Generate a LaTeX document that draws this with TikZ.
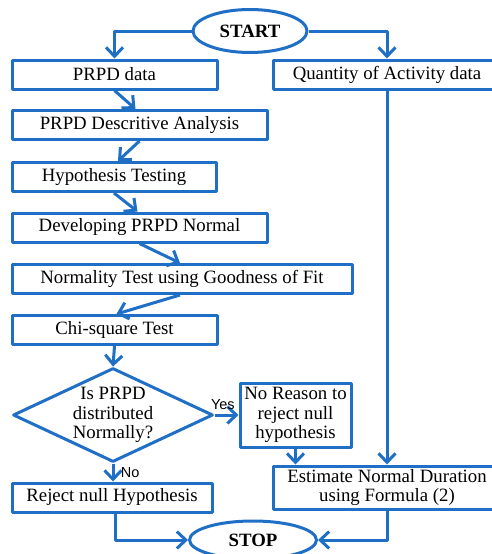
\documentclass[tikz,border=0pt]{standalone}
\usepackage{fontspec}
\setmainfont{Liberation Serif}
\newfontfamily\labelfont{Liberation Sans}
\usetikzlibrary{shapes.geometric,arrows.meta}
\definecolor{flowblue}{RGB}{31,111,199}
\begin{document}
\begin{tikzpicture}[x=1pt, y=-1pt, line join=round,
	font=\fontsize{18.8}{19.5}\selectfont,
	>={Straight Barb[length=9pt,width=17pt]},
	box/.style={draw=flowblue, line width=3pt, rectangle, inner sep=0pt, minimum height=29pt},
	oval/.style={draw=flowblue, line width=3pt, ellipse, inner sep=0pt, font=\fontsize{18.8}{19.5}\selectfont\bfseries},
	link/.style={->, draw=flowblue, line width=3pt},
	answer/.style={font=\labelfont\fontsize{14.5}{14.5}\selectfont}]
	\useasboundingbox (0,0) rectangle (491,554);
	
	% Đầu và cuối
	\node[oval, minimum width=114pt, minimum height=43pt] (start) at (250,31) {START};
	\node[oval, minimum width=127pt, minimum height=38pt] (stop) at (253,540) {STOP};
	
	% Nhánh trái
	\node[box, minimum width=205pt] (data) at (114.5,74.5) {PRPD data};
	\node[box, minimum width=255pt] (desc) at (139.5,125) {PRPD Descritive Analysis};
	\node[box, minimum width=204pt] (hyp) at (114,177) {Hypothesis Testing};
	\node[box, minimum width=255pt] (dev) at (139.5,227.5) {Developing PRPD Normal};
	\node[box, minimum width=340pt] (norm) at (182,279) {Normality Test using Goodness of Fit};
	\node[box, minimum width=205pt] (chi) at (114.5,330) {Chi-square Test};
	\node[draw=flowblue, line width=3pt, diamond, aspect=2.1, inner sep=0pt,
		minimum width=200pt, minimum height=94pt, align=center] (dist) at (113,415)
		{Is PRPD\\distributed\\Normally?};
	\node[box, minimum width=111pt, minimum height=64pt, align=center] (keep) at (295.5,415)
		{No Reason to\\reject null\\hypothesis};
	\node[box, minimum width=200pt] (reject) at (112,497.5) {Reject null Hypothesis};
	
	% Nhánh phải
	\node[box, minimum width=228pt] (qty) at (387,74.5) {Quantity of Activity data};
	\node[box, minimum width=228pt, minimum height=43pt, align=center] (est) at (387,487.5)
		{Estimate Normal Duration\\using Formula (2)};
	
	% Mũi tên
	\draw[link] (start.west) -| (data.north);
	\draw[link] (start.east) -| (qty.north);
	\draw[link] (data.south) -- ([xshift=-4pt]desc.north);
	\draw[link] (desc.south) -- ([xshift=4pt]hyp.north);
	\draw[link] (hyp.south) -- ([xshift=-2pt]dev.north);
	\draw[link] (dev.south) -- ([xshift=-2pt]norm.north);
	\draw[link] ([xshift=-2pt]norm.south) -- ([xshift=2pt]chi.north);
	\draw[link] (chi.south) -- (dist.north);
	\draw[link] (dist.east) -- (keep.west) node[answer, pos=0.35, above=1pt] {Yes};
	\draw[link] (dist.south) -- (dist.south |- reject.north) node[answer, midway, right=3pt] {No};
	\draw[link] (keep.south) -- (keep.south |- est.north);
	\draw[link] (qty.south) -- (est.north);
	\draw[link] ([xshift=3pt]reject.south) |- (stop.west);
	\draw[link] (est.south) |- (stop.east);
\end{tikzpicture}
\end{document}
